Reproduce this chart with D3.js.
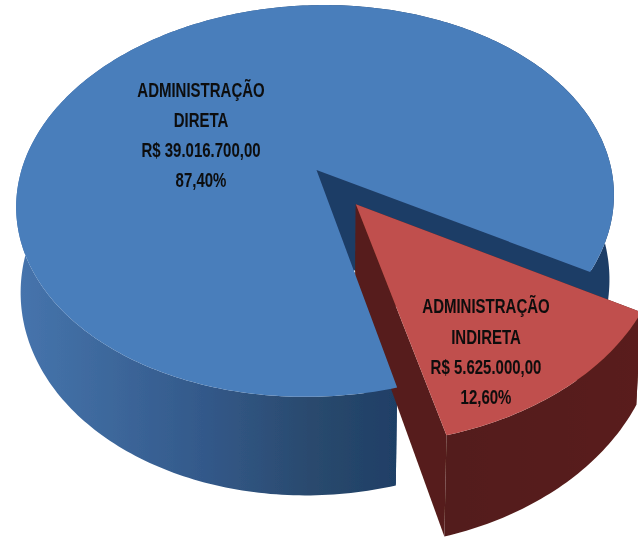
<!DOCTYPE html>
<html><head><meta charset="utf-8">
<script src="https://cdnjs.cloudflare.com/ajax/libs/d3/7.8.5/d3.min.js"></script>
<style>html,body{margin:0;padding:0;background:#fff;overflow:hidden}svg{display:block}</style>
</head><body><svg id="c" width="638" height="538"></svg>
<script>
const categories = ["ADMINISTRAÇÃO INDIRETA", "ADMINISTRAÇÃO DIRETA"];
const values = [5625000, 39016700];
const labelLines = [
  ["ADMINISTRAÇÃO", "INDIRETA", "R$ 5.625.000,00", "12,60%"],
  ["ADMINISTRAÇÃO", "DIRETA", "R$ 39.016.700,00", "87,40%"]
];
const exploded = [0.22, 0];
const topColors = ["#c0504d", "#4a7ebb"];
const faceColors = ["#561e1a", "#1f3d66"];

const W = 638, H = 538;
const cx = 316.5, cy = 170, rx = 295, ry = 191, k = 0.158, shear = 9, depth = 83, bottomScale = 0.985;
const start = 119.5 * Math.PI / 180;

const svg = d3.select("#c");
const defs = svg.append("defs");
defs.append("filter").attr("id","soft").append("feGaussianBlur").attr("stdDeviation",0.6);
defs.append("filter").attr("id","softT").append("feGaussianBlur").attr("stdDeviation",0.3);
const wallGrad = defs.append("linearGradient").attr("id","wallBlue")
  .attr("gradientUnits","userSpaceOnUse").attr("x1",17).attr("x2",638).attr("y1",0).attr("y2",0);
[[0,"#4674ad"],[0.1,"#406ca1"],[0.3,"#33598a"],[0.47,"#2a4a6e"],[0.61,"#1f3f66"],[1,"#1f3d66"]]
  .forEach(([o,c])=>wallGrad.append("stop").attr("offset",o).attr("stop-color",c));
const wallRed = defs.append("linearGradient").attr("id","wallRed")
  .attr("gradientUnits","userSpaceOnUse").attr("x1",440).attr("x2",640).attr("y1",0).attr("y2",0);
[[0,"#521d1a"],[1,"#5a1f1b"]].forEach(([o,c])=>wallRed.append("stop").attr("offset",o).attr("stop-color",c));

const pie = d3.pie().sort(null).startAngle(start).endAngle(start + 2*Math.PI);
const arcs = pie(values);

// perspective projection of a disc point (u right, v toward viewer); level 0 = top, 1 = bottom
function project(u, v, level) {
  const f = 1 / (1 - k * v);
  const s = level ? bottomScale : 1;
  return [cx + (rx * u * s - shear * v) * f, cy + ry * v * f + (level ? depth * f : 0)];
}
function discPoint(a, r, off, mid) {
  return [r * Math.sin(a) + off * Math.sin(mid), -r * Math.cos(a) - off * Math.cos(mid)];
}
const line = d3.line();
const g = svg.append("g").attr("filter","url(#soft)");

function sliceGeom(d, i) {
  const mid = (d.startAngle + d.endAngle) / 2, off = exploded[i];
  const n = Math.max(40, Math.round((d.endAngle - d.startAngle) * 60));
  const angles = d3.range(n + 1).map(j => d.startAngle + (d.endAngle - d.startAngle) * j / n);
  const at = (a, r, lvl) => { const p = discPoint(a, r, off, mid); return project(p[0], p[1], lvl); };
  return {
    top: [at(mid, 0, 0), ...angles.map(a => at(a, 1, 0))],
    wall: [...angles.map(a => at(a, 1, 0)), ...angles.slice().reverse().map(a => at(a, 1, 1))],
    cutA: [at(d.startAngle,0,0), at(d.startAngle,1,0), at(d.startAngle,1,1), at(d.startAngle,0,1)],
    cutB: [at(d.endAngle,0,0), at(d.endAngle,1,0), at(d.endAngle,1,1), at(d.endAngle,0,1)]
  };
}
const red = sliceGeom(arcs[0], 0), blue = sliceGeom(arcs[1], 1);
const draw = (pts, fill) => g.append("path").attr("d", line(pts) + "Z").attr("fill", fill);

draw(blue.cutA, faceColors[1]);
draw(blue.cutB, faceColors[1]).attr("stroke", faceColors[1]).attr("stroke-width", 4);
draw(blue.wall, "url(#wallBlue)");
draw(red.cutA, faceColors[0]);
draw(red.cutB, faceColors[0]);
draw(red.wall, "url(#wallRed)");
draw(blue.top, topColors[1]);
draw(red.top, topColors[0]);

const labelPos = [{x:486, y:[313,344,374,404]}, {x:201, y:[97,127,157,187]}];
const t = svg.append("g").attr("filter","url(#softT)");
labelLines.forEach((lines, i) => {
  t.selectAll(null).data(lines).enter().append("text")
    .attr("transform", (d,j)=>`translate(${labelPos[i].x},${labelPos[i].y[j]}) scale(0.75,1)`)
    .attr("text-anchor","middle")
    .attr("font-family","'Liberation Sans',sans-serif")
    .attr("font-weight","bold").attr("font-size",20).attr("fill","#0c0c0c")
    .text(d=>d);
});
</script></body></html>
